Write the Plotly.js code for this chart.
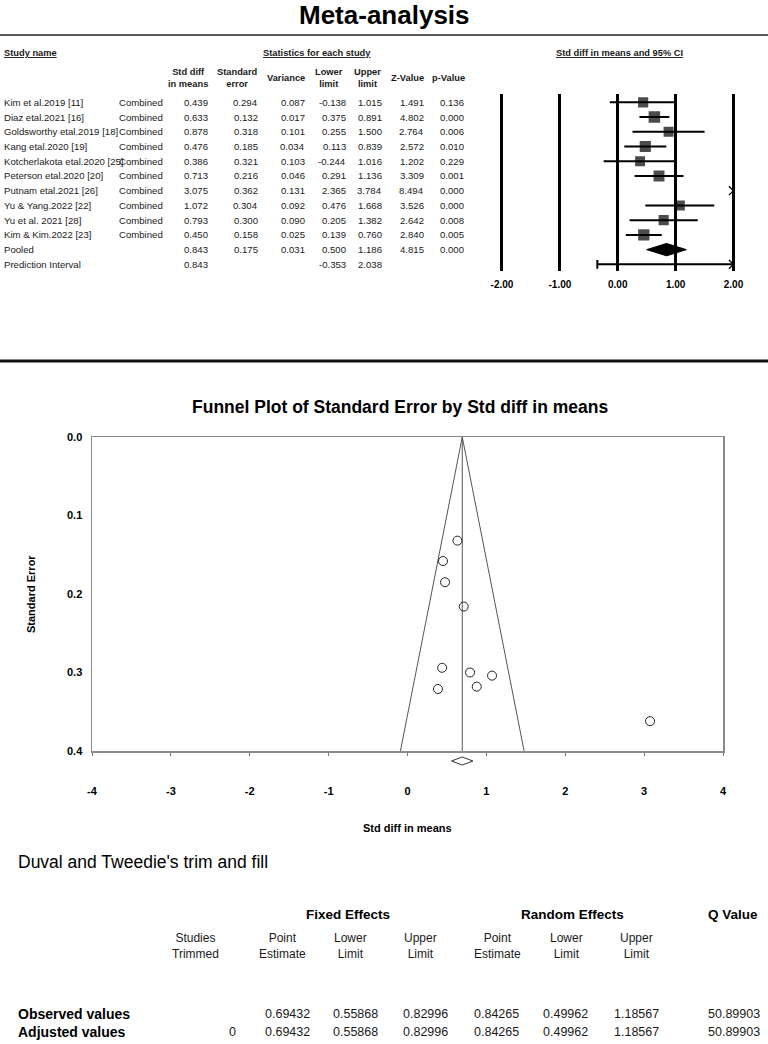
<!DOCTYPE html>
<html><head><meta charset="utf-8">
<script src="https://cdn.plot.ly/plotly-3.0.1.min.js"></script>
<style>html,body{margin:0;padding:0;background:#fff}#chart{width:768px;height:1044px}</style>
</head><body><div id="chart"></div>
<script>
// ---------------- data ----------------
const studyNames = ["Kim et al.2019 [11]", "Diaz etal.2021 [16]", "Goldsworthy etal.2019 [18]", "Kang etal.2020 [19]",
  "Kotcherlakota etal.2020 [25]", "Peterson etal.2020 [20]", "Putnam etal.2021 [26]", "Yu & Yang.2022 [22]",
  "Yu et al. 2021 [28]", "Kim & Kim.2022 [23]"];
const subgroup = "Combined";
const stdDiff    = [0.439, 0.633, 0.878, 0.476, 0.386, 0.713, 3.075, 1.072, 0.793, 0.450];
const stdErr     = [0.294, 0.132, 0.318, 0.185, 0.321, 0.216, 0.362, 0.304, 0.300, 0.158];
const variance   = [0.087, 0.017, 0.101, 0.034, 0.103, 0.046, 0.131, 0.092, 0.090, 0.025];
const lowerLimit = [-0.138, 0.375, 0.255, 0.113, -0.244, 0.291, 2.365, 0.476, 0.205, 0.139];
const upperLimit = [1.015, 0.891, 1.500, 0.839, 1.016, 1.136, 3.784, 1.668, 1.382, 0.760];
const zValue     = [1.491, 4.802, 2.764, 2.572, 1.202, 3.309, 8.494, 3.526, 2.642, 2.840];
const pValue     = [0.136, 0.000, 0.006, 0.010, 0.229, 0.001, 0.000, 0.000, 0.008, 0.005];
// pooled: std diff, SE, variance, lower, upper, Z, p
const pooledStats = [0.843, 0.175, 0.031, 0.500, 1.186, 4.815, 0.000];
// prediction interval: estimate, lower, upper
const predictionInterval = [0.843, -0.353, 2.038];
const forestTicks = [-2, -1, 0, 1, 2];
const funnelXTicks = [-4, -3, -2, -1, 0, 1, 2, 3, 4];
const funnelYTicks = [0.0, 0.1, 0.2, 0.3, 0.4];
// Duval and Tweedie's trim and fill
const trimColumns = ["Point<br>Estimate", "Lower<br>Limit", "Upper<br>Limit", "Point<br>Estimate", "Lower<br>Limit", "Upper<br>Limit"];
const observedValues = [0.69432, 0.55868, 0.82996, 0.84265, 0.49962, 1.18567, 50.89903];
const adjustedValues = [0.69432, 0.55868, 0.82996, 0.84265, 0.49962, 1.18567, 50.89903];
const studiesTrimmed = 0;

// ---------------- layout helpers ----------------
const W = 768, H = 1044;
const SANS = "Liberation Sans, Arial, sans-serif";
const NARROW = "Liberation Sans Narrow, Arial Narrow, Liberation Sans, Arial, sans-serif";
const INK = "#1a1a1a";
const px = x => x / W, py = y => 1 - y / H;
const ann = [];
function T(text, x, y, o = {}) {
  ann.push({
    text, x: px(x), y: py(y), xref: "paper", yref: "paper", showarrow: false,
    xanchor: o.anchor || "left", yanchor: "middle", align: o.align || "center",
    borderpad: 0,
    font: { family: o.family || SANS, size: o.size || 9.6, color: o.color || INK, weight: o.bold ? 700 : 400 }
  });
}
const f3 = v => v.toFixed(3);

// ---------------- top table ----------------
T("Meta-analysis", 384, 15, { anchor: "center", family: NARROW, size: 26, bold: true, color: "#000" });
T("<u>Study name</u>", 3, 53, { bold: true, size: 9.3 });
T("<u>Statistics for each study</u>", 317, 53, { anchor: "center", bold: true, size: 9.3 });
T("<u>Std diff in means and 95% CI</u>", 619, 53, { anchor: "center", bold: true, size: 9.3 });
const hdr = [["Std diff<br>in means", 188], ["Standard<br>error", 237], ["<br>Variance", 286], ["Lower<br>limit", 329],
  ["Upper<br>limit", 367], ["<br>Z-Value", 407], ["<br>p-Value", 448]];
hdr.forEach(h => T(h[0], h[1], 78, { anchor: "center", bold: true, size: 9.3 }));
const rowY = i => 102.3 + 14.73 * i;
const colRight = [209, 259, 306, 347, 383, 425, 465];
studyNames.forEach((n, i) => {
  const y = rowY(i);
  T(n, 3, y);
  T(subgroup, 164, y, { anchor: "right" });
  [stdDiff[i], stdErr[i], variance[i], lowerLimit[i], upperLimit[i], zValue[i], pValue[i]]
    .forEach((v, c) => T(f3(v), colRight[c], y, { anchor: "right" }));
});
T("Pooled", 3, rowY(10));
pooledStats.forEach((v, c) => T(f3(v), colRight[c], rowY(10), { anchor: "right" }));
T("Prediction Interval", 3, rowY(11));
T(f3(predictionInterval[0]), colRight[0], rowY(11), { anchor: "right" });
T(f3(predictionInterval[1]), colRight[3], rowY(11), { anchor: "right" });
T(f3(predictionInterval[2]), colRight[4], rowY(11), { anchor: "right" });

// ---------------- forest plot ----------------
const XMIN = forestTicks[0], XMAX = forestTicks[forestTicks.length - 1];
const ciX = [], ciY = [], arX = [], arY = [];
const arrowW = 0.08, arrowH = 0.3;
function addCI(lo, hi, row) {
  if (lo < XMAX) { ciX.push(Math.max(lo, XMIN), Math.min(hi, XMAX), null); ciY.push(row, row, null); }
  if (hi > XMAX) { arX.push(XMAX - arrowW, XMAX, XMAX - arrowW, null); arY.push(row - arrowH, row, row + arrowH, null); }
}
studyNames.forEach((n, i) => addCI(lowerLimit[i], upperLimit[i], i));
const predRow = studyNames.length + 1, pooledRow = studyNames.length;
addCI(predictionInterval[1], predictionInterval[2], predRow);
// random-effects weights for square size (DerSimonian-Laird)
const w = variance.map(v => 1 / v);
const sw = w.reduce((a, b) => a + b, 0);
const ybar = w.reduce((a, wi, i) => a + wi * stdDiff[i], 0) / sw;
const Q = w.reduce((a, wi, i) => a + wi * (stdDiff[i] - ybar) ** 2, 0);
const Cc = sw - w.reduce((a, wi) => a + wi * wi, 0) / sw;
const tau2 = Math.max(0, (Q - (w.length - 1)) / Cc);
const wr = variance.map(v => 1 / (v + tau2));
const wmax = Math.max(...wr);
const sqSize = wr.map(x => 11.5 * Math.sqrt(x / wmax));

const traces = [];
traces.push({ x: ciX, y: ciY, mode: "lines", line: { color: "#000", width: 2 }, xaxis: "x", yaxis: "y", hoverinfo: "skip" });
traces.push({ x: arX, y: arY, mode: "lines", line: { color: "#000", width: 1.3 }, xaxis: "x", yaxis: "y", hoverinfo: "skip" });
traces.push({ x: [predictionInterval[1], predictionInterval[1]], y: [predRow - 0.3, predRow + 0.3], mode: "lines",
  line: { color: "#000", width: 2 }, xaxis: "x", yaxis: "y", hoverinfo: "skip" });
traces.push({ x: stdDiff, y: studyNames.map((n, i) => i), mode: "markers", xaxis: "x", yaxis: "y",
  marker: { symbol: "square", color: "#000", size: sqSize, line: { width: 0 } } });
traces.push({ x: [pooledStats[3], pooledStats[0], pooledStats[4], pooledStats[0], pooledStats[3]],
  y: [pooledRow, pooledRow - 0.42, pooledRow, pooledRow + 0.42, pooledRow], mode: "lines", fill: "toself",
  fillcolor: "#000", line: { color: "#000", width: 1 }, xaxis: "x", yaxis: "y", hoverinfo: "skip" });

// ---------------- funnel plot ----------------
const fixedEffect = observedValues[0];
const seMax = funnelYTicks[funnelYTicks.length - 1];
traces.push({ x: [fixedEffect - 1.96 * seMax, fixedEffect, fixedEffect + 1.96 * seMax], y: [seMax, 0, seMax],
  mode: "lines", line: { color: "#555", width: 1 }, xaxis: "x2", yaxis: "y2", hoverinfo: "skip" });
traces.push({ x: [fixedEffect, fixedEffect], y: [0, seMax], mode: "lines", line: { color: "#555", width: 1 },
  xaxis: "x2", yaxis: "y2", hoverinfo: "skip" });
traces.push({ x: stdDiff, y: stdErr, mode: "markers", xaxis: "x2", yaxis: "y2",
  marker: { symbol: "circle-open", size: 9, color: "#222", line: { width: 1, color: "#222" } } });

const dY = py(761), dH = 4 / H;
const shapes = [
  { type: "line", xref: "paper", yref: "paper", x0: 0, x1: 1, y0: py(35), y1: py(35), line: { color: "#222", width: 1.5 } },
  { type: "line", xref: "paper", yref: "paper", x0: 0, x1: 1, y0: py(361), y1: py(361), line: { color: "#111", width: 3 } },
  { type: "path", xref: "x2", yref: "paper",
    path: `M ${observedValues[1]},${dY} L ${fixedEffect},${dY + dH} L ${observedValues[2]},${dY} L ${fixedEffect},${dY - dH} Z`,
    line: { color: "#333", width: 1 }, fillcolor: "rgba(0,0,0,0)" }
];

T("Funnel Plot of Standard Error by Std diff in means", 400, 407, { anchor: "center", family: NARROW, size: 17.5, bold: true, color: "#000" });
T("Std diff in means", 407, 828, { anchor: "center", size: 11, bold: true, color: "#000" });
ann.push({ text: "Standard Error", x: px(31), y: py(594), xref: "paper", yref: "paper", showarrow: false, textangle: -90,
  xanchor: "center", yanchor: "middle", font: { family: SANS, size: 11, color: "#000", weight: 700 } });

// ---------------- trim and fill table ----------------
T("Duval and Tweedie's trim and fill", 17, 862, { family: NARROW, size: 17.5, color: "#000" });
T("Fixed Effects", 348, 914, { anchor: "center", family: NARROW, size: 13.5, bold: true, color: "#000" });
T("Random Effects", 572, 914, { anchor: "center", family: NARROW, size: 13.5, bold: true, color: "#000" });
T("Q Value", 733, 914, { anchor: "center", family: NARROW, size: 13.5, bold: true, color: "#000" });
T("Studies<br>Trimmed", 195, 946, { anchor: "center", family: NARROW, size: 12 });
const tCenters = [282, 350, 420, 497, 566, 636];
trimColumns.forEach((t, c) => T(t, tCenters[c], 946, { anchor: "center", family: NARROW, size: 12 }));
const vRight = [311, 379, 449, 520, 589, 660, 761];
T("Observed values", 17, 1014, { family: NARROW, size: 14, bold: true, color: "#000" });
T("Adjusted values", 17, 1032, { family: NARROW, size: 14, bold: true, color: "#000" });
observedValues.forEach((v, c) => T(v.toFixed(5), vRight[c], 1014, { anchor: "right", family: NARROW, size: 12.5 }));
adjustedValues.forEach((v, c) => T(v.toFixed(5), vRight[c], 1032, { anchor: "right", family: NARROW, size: 12.5 }));
T(String(studiesTrimmed), 237, 1032, { anchor: "right", family: NARROW, size: 12.5 });

// ---------------- layout ----------------
const fLeft = 502 - 0.05 * 57.9, fRight = 733.5 + 0.05 * 57.9;
const layout = {
  width: W, height: H, margin: { l: 0, r: 0, t: 0, b: 0 }, showlegend: false,
  paper_bgcolor: "#fff", plot_bgcolor: "rgba(0,0,0,0)",
  xaxis: { domain: [px(fLeft), px(fRight)], range: [XMIN - 0.05, XMAX + 0.05], anchor: "y",
    tickvals: forestTicks, ticktext: forestTicks.map(v => v.toFixed(2)), ticks: "", showline: false,
    showgrid: true, gridcolor: "#000", gridwidth: 3, zeroline: true, zerolinecolor: "#000", zerolinewidth: 3,
    ticklabelstandoff: 6,
    tickfont: { family: SANS, size: 10, color: "#000", weight: 700 }, fixedrange: true },
  yaxis: { domain: [py(270.7), py(94)], range: [11.43, -0.563], anchor: "x", visible: false, showgrid: false, zeroline: false },
  xaxis2: { domain: [px(92), px(723)], range: [-4, 4], anchor: "y2", tickvals: funnelXTicks,
    ticktext: funnelXTicks.map(String), ticks: "outside", ticklen: 3, tickcolor: "#777",
    showline: true, mirror: true, linecolor: "#8a8a8a", linewidth: 1.5, showgrid: false, zeroline: false,
    ticklabelstandoff: 26, tickfont: { family: SANS, size: 11, color: "#000", weight: 700 } },
  yaxis2: { domain: [py(751), py(437)], range: [seMax, 0], anchor: "x2", tickvals: funnelYTicks,
    ticktext: funnelYTicks.map(v => v.toFixed(1)), ticks: "", showline: true, mirror: true, linecolor: "#8a8a8a",
    linewidth: 1.5, showgrid: false, zeroline: false, ticklabelstandoff: 6,
    tickfont: { family: SANS, size: 11, color: "#000", weight: 700 } },
  annotations: ann, shapes: shapes
};
Plotly.newPlot("chart", traces, layout, { staticPlot: true, displayModeBar: false });
</script></body></html>
